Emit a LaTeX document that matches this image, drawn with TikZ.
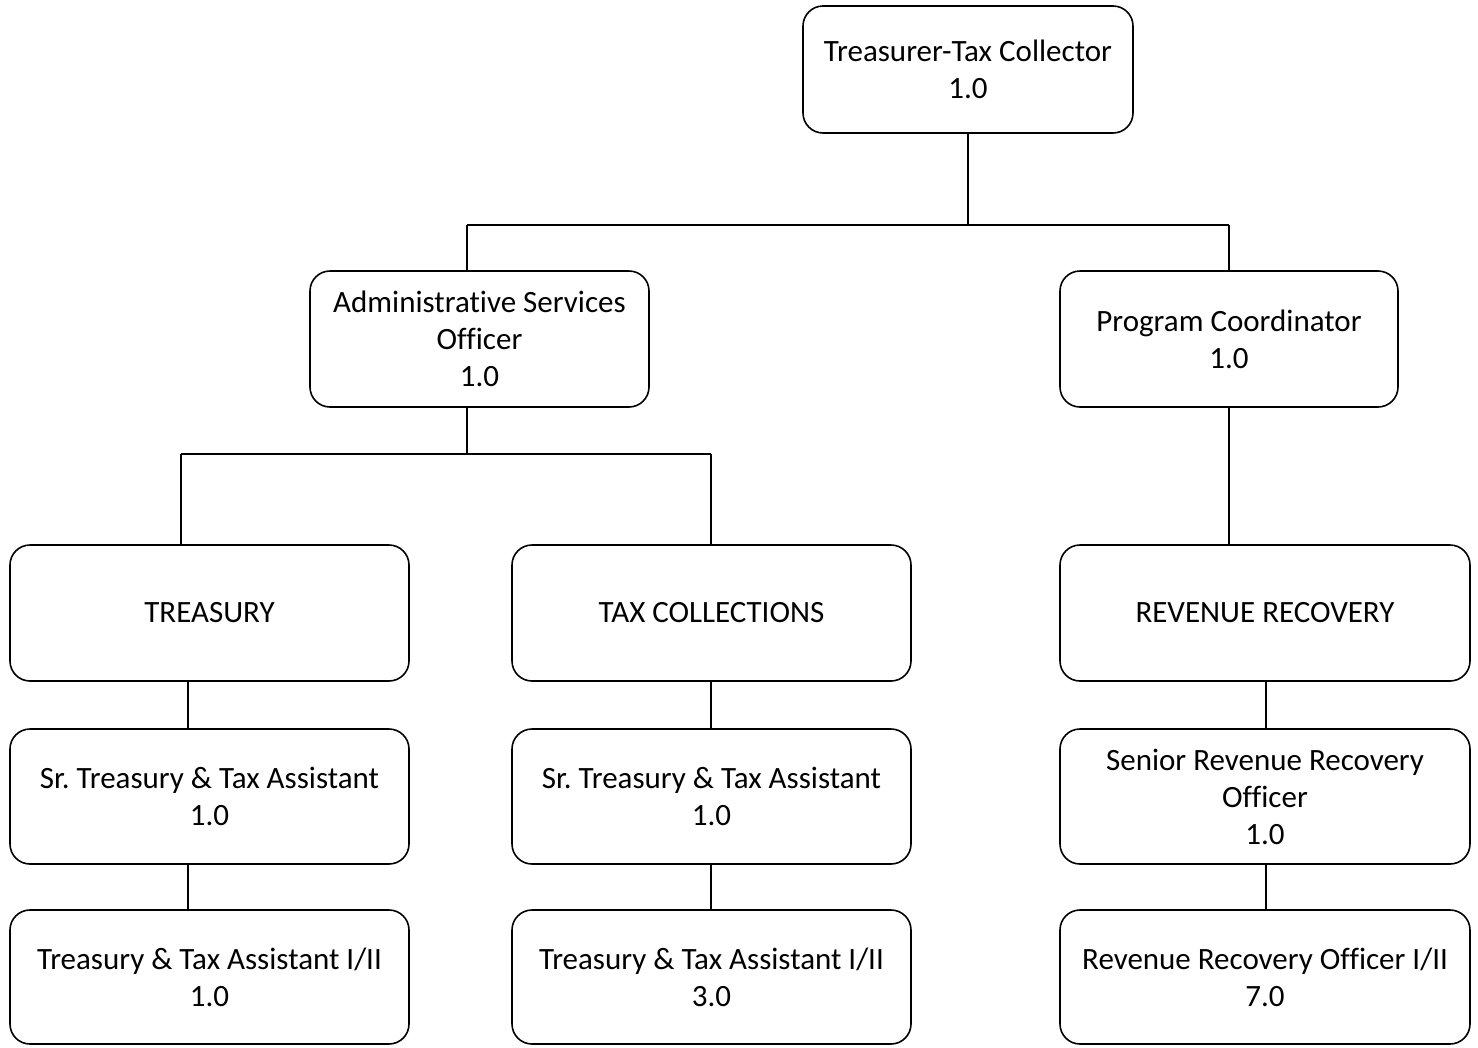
\documentclass[tikz,border=0pt]{standalone}
\usepackage{fontspec}
\setmainfont{Carlito}[Ligatures=NoCommon]
\frenchspacing
\begin{document}
\begin{tikzpicture}[x=1pt,y=-1pt,
  box/.style={draw=black,line width=1.6pt,rounded corners=20pt,align=center,
    font=\fontsize{31}{37}\selectfont,inner sep=0pt},
  link/.style={draw=black,line width=1.6pt}]
\useasboundingbox (0,0) rectangle (1478,1047);
% boxes: center x, center y, width, height
\node[box,minimum width=330pt,minimum height=127pt] (top) at (968,69.5) {Treasurer-Tax Collector\\1.0};
\node[box,minimum width=339pt,minimum height=136pt] (aso) at (479.5,339) {Administrative Services\\Officer\\1.0};
\node[box,minimum width=338pt,minimum height=136pt] (pc) at (1229,339) {Program Coordinator\\1.0};
\node[box,minimum width=399pt,minimum height=136pt] (tre) at (209.5,613) {TREASURY};
\node[box,minimum width=399pt,minimum height=136pt] (tax) at (711.5,613) {TAX COLLECTIONS};
\node[box,minimum width=410pt,minimum height=136pt] (rev) at (1265,613) {REVENUE RECOVERY};
\node[box,minimum width=399pt,minimum height=135pt] (s1) at (209.5,796.5) {Sr.\ Treasury \& Tax Assistant\\1.0};
\node[box,minimum width=399pt,minimum height=135pt] (s2) at (711.5,796.5) {Sr.\ Treasury \& Tax Assistant\\1.0};
\node[box,minimum width=410pt,minimum height=135pt] (s3) at (1265,796.5) {Senior Revenue Recovery\\Officer\\1.0};
\node[box,minimum width=399pt,minimum height=134pt] (a1) at (209.5,977) {Treasury \& Tax Assistant I/II\\1.0};
\node[box,minimum width=399pt,minimum height=134pt] (a2) at (711.5,977) {Treasury \& Tax Assistant I/II\\3.0};
\node[box,minimum width=410pt,minimum height=134pt] (a3) at (1265,977) {Revenue Recovery Officer I/II\\7.0};
% connectors
\coordinate (j1) at (968,225);
\coordinate (j1l) at (467,225);
\coordinate (j1r) at (1229,225);
\coordinate (j2) at (467,454);
\coordinate (j2l) at (181,454);
\coordinate (j2r) at (711,454);
\draw[link] (top.south) -- (j1);
\draw[link] (j1l) -- (j1r);
\draw[link] (j1l) -- (j1l |- aso.north);
\draw[link] (j1r) -- (pc.north);
\draw[link] (j2 |- aso.south) -- (j2);
\draw[link] (j2l) -- (j2r);
\draw[link] (j2l) -- (j2l |- tre.north);
\draw[link] (j2r) -- (j2r |- tax.north);
\draw[link] (pc.south) -- (pc.south |- rev.north);
\coordinate (c1) at (188,0);
\draw[link] (c1 |- tre.south) -- (c1 |- s1.north);
\draw[link] (c1 |- s1.south) -- (c1 |- a1.north);
\coordinate (c2) at (711,0);
\draw[link] (c2 |- tax.south) -- (c2 |- s2.north);
\draw[link] (c2 |- s2.south) -- (c2 |- a2.north);
\coordinate (c3) at (1266,0);
\draw[link] (c3 |- rev.south) -- (c3 |- s3.north);
\draw[link] (c3 |- s3.south) -- (c3 |- a3.north);
\end{tikzpicture}
\end{document}
